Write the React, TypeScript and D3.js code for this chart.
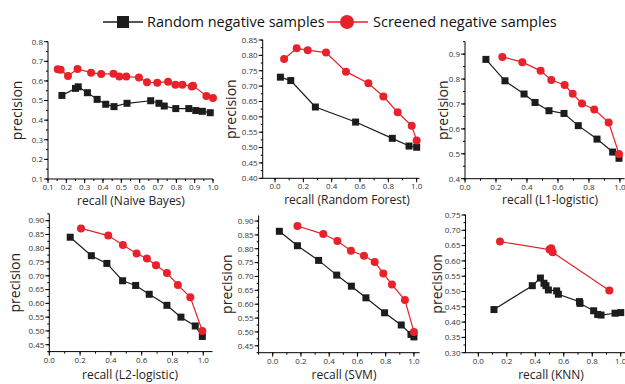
import React from 'react';
import * as d3 from 'd3';

// legend labels
const seriesNames = ['Random negative samples', 'Screened negative samples'];

// [recall, precision]
const nbRandom = [[0.176, 0.526], [0.25, 0.562], [0.265, 0.57], [0.315, 0.54], [0.368, 0.506], [0.415, 0.481], [0.46, 0.469], [0.531, 0.486], [0.66, 0.499], [0.705, 0.486], [0.734, 0.472], [0.797, 0.459], [0.868, 0.459], [0.906, 0.449], [0.942, 0.445], [0.985, 0.438]];
const nbScreened = [[0.153, 0.659], [0.169, 0.657], [0.209, 0.625], [0.261, 0.661], [0.335, 0.642], [0.39, 0.635], [0.457, 0.637], [0.489, 0.622], [0.527, 0.622], [0.596, 0.618], [0.64, 0.593], [0.696, 0.591], [0.755, 0.596], [0.795, 0.581], [0.833, 0.581], [0.884, 0.572], [0.891, 0.576], [0.964, 0.523], [1.0, 0.513]];

const rfRandom = [[0.038, 0.729], [0.111, 0.718], [0.285, 0.632], [0.569, 0.583], [0.828, 0.53], [0.946, 0.505], [1.0, 0.501]];
const rfScreened = [[0.064, 0.788], [0.153, 0.823], [0.231, 0.817], [0.36, 0.809], [0.501, 0.747], [0.659, 0.709], [0.765, 0.666], [0.866, 0.615], [0.965, 0.571], [1.0, 0.523]];

const l1Random = [[0.135, 0.879], [0.258, 0.793], [0.381, 0.74], [0.452, 0.706], [0.542, 0.673], [0.639, 0.662], [0.731, 0.613], [0.852, 0.559], [0.953, 0.507], [0.994, 0.482]];
const l1Screened = [[0.241, 0.889], [0.37, 0.868], [0.488, 0.833], [0.557, 0.796], [0.643, 0.776], [0.695, 0.741], [0.755, 0.702], [0.834, 0.678], [0.927, 0.626], [0.994, 0.499]];

const l2Random = [[0.136, 0.84], [0.273, 0.773], [0.374, 0.745], [0.476, 0.682], [0.561, 0.665], [0.649, 0.633], [0.764, 0.593], [0.855, 0.55], [0.948, 0.518], [0.994, 0.48]];
const l2Screened = [[0.206, 0.872], [0.383, 0.846], [0.478, 0.812], [0.567, 0.781], [0.634, 0.763], [0.693, 0.738], [0.764, 0.71], [0.835, 0.667], [0.916, 0.622], [0.994, 0.5]];

const svmRandom = [[0.047, 0.863], [0.175, 0.811], [0.325, 0.758], [0.453, 0.705], [0.557, 0.665], [0.66, 0.623], [0.792, 0.569], [0.91, 0.525], [0.979, 0.491], [1.0, 0.482]];
const svmScreened = [[0.175, 0.882], [0.358, 0.853], [0.458, 0.828], [0.554, 0.793], [0.646, 0.775], [0.722, 0.752], [0.783, 0.711], [0.844, 0.671], [0.936, 0.615], [1.0, 0.5]];

const knnRandom = [[0.11, 0.441], [0.379, 0.519], [0.436, 0.544], [0.461, 0.527], [0.475, 0.519], [0.492, 0.505], [0.55, 0.502], [0.562, 0.491], [0.71, 0.467], [0.714, 0.461], [0.81, 0.437], [0.838, 0.425], [0.862, 0.423], [0.96, 0.429], [1.0, 0.431]];
const knnScreened = [[0.152, 0.663], [0.5, 0.637], [0.512, 0.641], [0.522, 0.628], [0.92, 0.503]];

// tick values
const ticksNbX = [0.1, 0.2, 0.3, 0.4, 0.5, 0.6, 0.7, 0.8, 0.9, 1.0];
const ticksNbY = [0.1, 0.2, 0.3, 0.4, 0.5, 0.6, 0.7, 0.8];
const ticksX = [0.0, 0.2, 0.4, 0.6, 0.8, 1.0];
const ticksRfY = [0.4, 0.45, 0.5, 0.55, 0.6, 0.65, 0.7, 0.75, 0.8, 0.85];
const ticksL1Y = [0.4, 0.5, 0.6, 0.7, 0.8, 0.9];
const ticksL2Y = [0.45, 0.5, 0.55, 0.6, 0.65, 0.7, 0.75, 0.8, 0.85, 0.9];
const ticksKnnY = [0.3, 0.35, 0.4, 0.45, 0.5, 0.55, 0.6, 0.65, 0.7, 0.75];

const RED = '#e8212a';
const BLACK = '#1c1c1c';
const FONT = '"Open Sans", sans-serif';

const panels = [
  { title: 'recall (Naive Bayes)', random: nbRandom, screened: nbScreened,
    xd: [0.1, 1.0], xr: [48, 213], yd: [0.1, 0.8], yr: [179, 41.7],
    xt: ticksNbX, xm: 0.05, xf: '.1f', yt: ticksNbY, ym: 0.05, yf: '.1f',
    tx: 131, ty: 205, px: 17 },
  { title: 'recall (Random Forest)', random: rfRandom, screened: rfScreened,
    xd: [-0.087, 1.02], xr: [262.7, 419.5], yd: [0.4, 0.85], yr: [178.3, 40],
    xt: ticksX, xm: 0.1, xf: '.1f', yt: ticksRfY, ym: 0.025, yf: '.2f',
    tx: 347, ty: 204, px: 231 },
  { title: 'recall (L1-logistic)', random: l1Random, screened: l1Screened,
    xd: [0, 1.03], xr: [465, 624.6], yd: [0.4, 0.95], yr: [178.7, 41.7],
    xt: ticksX, xm: 0.1, xf: '.1f', yt: ticksL1Y, ym: 0.05, yf: '.1f',
    tx: 550, ty: 204, px: 443 },
  { title: 'recall (L2-logistic)', random: l2Random, screened: l2Screened,
    xd: [0, 1.06], xr: [49.3, 212.5], yd: [0.425, 0.925], yr: [351.6, 213.8],
    xt: ticksX, xm: 0.1, xf: '.1f', yt: ticksL2Y, ym: 0.025, yf: '.2f',
    tx: 130, ty: 379, px: 15 },
  { title: 'recall (SVM)', random: svmRandom, screened: svmScreened,
    xd: [-0.1, 1.04], xr: [258.6, 419.6], yd: [0.425, 0.92], yr: [352.7, 215.5],
    xt: ticksX, xm: 0.1, xf: '.1f', yt: ticksL2Y, ym: 0.025, yf: '.2f',
    tx: 344, ty: 379, px: 227 },
  { title: 'recall (KNN)', random: knnRandom, screened: knnScreened,
    xd: [-0.09, 1.03], xr: [465.5, 625], yd: [0.3, 0.75], yr: [352.7, 215],
    xt: ticksX, xm: 0.1, xf: '.1f', yt: ticksKnnY, ym: 0.025, yf: '.2f',
    tx: 551, ty: 379, px: 437 },
];

const minorTicks = (domain, step) => {
  const out = [];
  const start = Math.ceil(domain[0] / step - 1e-6) * step;
  for (let v = start; v <= domain[1] + 1e-9; v += step) out.push(+v.toFixed(4));
  return out;
};

const Panel = ({ p }) => {
  const x = d3.scaleLinear().domain(p.xd).range(p.xr);
  const y = d3.scaleLinear().domain(p.yd).range(p.yr);
  const x0 = p.xr[0];
  const y0 = p.yr[0];
  const line = d3.line().x(d => x(d[0])).y(d => y(d[1]));
  const xFmt = d3.format(p.xf);
  const yFmt = d3.format(p.yf);
  const yMid = (p.yr[0] + p.yr[1]) / 2;

  return (
    <g>
      {/* axes */}
      <line x1={x0} x2={x0} y1={y0} y2={p.yr[1]} stroke="#000" strokeWidth={1} />
      <line x1={x0} x2={p.xr[1]} y1={y0} y2={y0} stroke="#000" strokeWidth={1} />
      {minorTicks(p.yd, p.ym).map((v, i) => (
        <line key={'ym' + i} x1={x0} x2={x0 - 2} y1={y(v)} y2={y(v)} stroke="#000" />
      ))}
      {minorTicks(p.xd, p.xm).map((v, i) => (
        <line key={'xm' + i} x1={x(v)} x2={x(v)} y1={y0} y2={y0 + 2} stroke="#000" />
      ))}
      {p.yt.map((v, i) => (
        <g key={'yt' + i}>
          <line x1={x0} x2={x0 - 4} y1={y(v)} y2={y(v)} stroke="#000" />
          <text x={x0 - 5} y={y(v)} dy="0.35em" textAnchor="end" fontSize={8} fill="#333" fontFamily={FONT}>{yFmt(v)}</text>
        </g>
      ))}
      {p.xt.map((v, i) => (
        <g key={'xt' + i}>
          <line x1={x(v)} x2={x(v)} y1={y0} y2={y0 + 4} stroke="#000" />
          <text x={x(v)} y={y0 + 11} textAnchor="middle" fontSize={8} fill="#333" fontFamily={FONT}>{xFmt(v)}</text>
        </g>
      ))}
      <text x={p.tx} y={p.ty} textAnchor="middle" fontSize={12} fill="#222" fontFamily={FONT}>{p.title}</text>
      <text transform={`translate(${p.px},${yMid}) rotate(-90)`} textAnchor="middle" dy="0.35em" fontSize={14} fill="#222" fontFamily={FONT}>precision</text>

      {/* series */}
      <path d={line(p.random)} fill="none" stroke={BLACK} strokeWidth={1.2} />
      <path d={line(p.screened)} fill="none" stroke={RED} strokeWidth={1.2} />
      {p.random.map((d, i) => (
        <rect key={'r' + i} x={x(d[0]) - 3.5} y={y(d[1]) - 3.5} width={7} height={7} fill={BLACK} />
      ))}
      {p.screened.map((d, i) => (
        <circle key={'s' + i} cx={x(d[0])} cy={y(d[1])} r={4} fill={RED} />
      ))}
    </g>
  );
};

const App = () => {
  return (
    <svg width={625} height={384} style={{ position: 'absolute', left: 0, top: 0, background: '#fff' }}>
      <rect width={625} height={384} fill="#fff" />
      {/* legend */}
      <g>
        <line x1={103} x2={143} y1={22} y2={22} stroke={BLACK} strokeWidth={1.5} />
        <rect x={117} y={16} width={12} height={12} fill={BLACK} />
        <text x={147} y={22} dy="0.35em" fontSize={14.5} fill="#111" fontFamily={FONT}>{seriesNames[0]}</text>
        <line x1={327} x2={368} y1={22} y2={22} stroke={RED} strokeWidth={1.5} />
        <circle cx={347} cy={22} r={7} fill={RED} />
        <text x={373} y={22} dy="0.35em" fontSize={14.5} fill="#111" fontFamily={FONT}>{seriesNames[1]}</text>
      </g>
      {panels.map((p, i) => <Panel key={i} p={p} />)}
    </svg>
  );
};

export default App;
